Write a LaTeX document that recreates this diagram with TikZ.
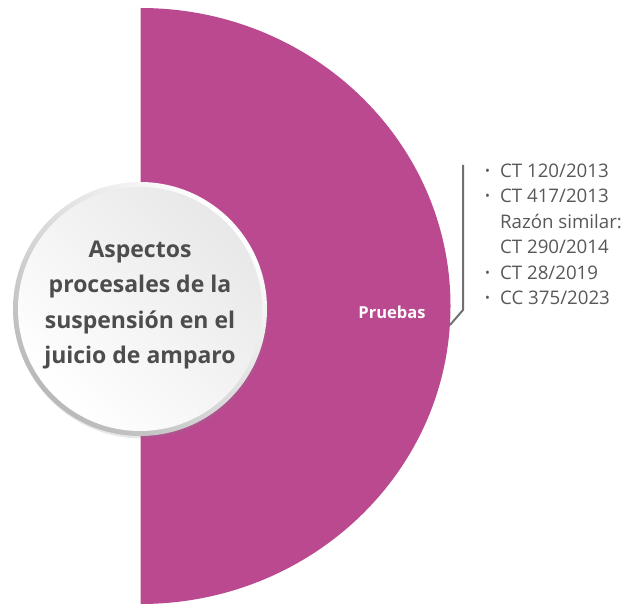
\documentclass[tikz,border=0pt]{standalone}
\usepackage{fontspec}
\setmainfont{Open Sans}
\usetikzlibrary{shadows}

\definecolor{fucsia}{RGB}{187,73,144}
\definecolor{grisTexto}{RGB}{88,88,90}
\definecolor{grisTitulo}{RGB}{77,77,79}
\definecolor{grisLinea}{RGB}{112,112,114}

\tikzset{
  anillo/.style={circle, minimum size=254pt, inner sep=0pt,
    top color=white, bottom color=gray!55, shading angle=-45},
  disco/.style={circle, minimum size=244pt, inner sep=0pt,
    top color=gray!18, bottom color=white, shading angle=-45},
  titulo/.style={font=\fontsize{23}{35.5}\selectfont\bfseries, text=grisTitulo, align=center},
  rotulo/.style={font=\fontsize{16.5}{20}\selectfont\bfseries, text=white},
  lista/.style={font=\fontsize{18.7}{25.4}\selectfont, text=grisTexto, inner sep=0pt, anchor=base west},
  llave/.style={draw=grisLinea, line width=2pt},
}
\newcommand{\punto}{{\fontsize{13}{13}\selectfont\raisebox{2pt}{•}}}

\begin{document}
\begin{tikzpicture}[x=1pt,y=1pt]
\useasboundingbox (0,0) rectangle (628,605);
% medio disco
\fill[fucsia] (140.5,597) arc[start angle=90,end angle=-90,x radius=310,y radius=298] -- cycle;
% circulo central
\node[anillo, drop shadow={opacity=0.18, shadow xshift=1.5pt, shadow yshift=-2.5pt}] (anillo) at (140,296) {};
\node[disco] (centro) at (anillo) {};
\node[titulo] (tema) at (140,300) {Aspectos\\procesales de la\\suspensión en el\\juicio de amparo};

\node[rotulo] (pruebas) at (392,293) {Pruebas};
\node[lista] (casos) at (485,427.5) {\begin{tabular}[t]{@{}l@{\hspace{10pt}}l@{}}
  \punto & CT 120/2013\\
  \punto & CT 417/2013\\
         & Razón similar:\\
         & CT 290/2014\\
  \punto & CT 28/2019\\
  \punto & CC 375/2023
\end{tabular}};

\coordinate (borde) at (450,280);
\coordinate (codo) at (463,295);
\coordinate (tope) at (463,440);
\draw[llave] (borde) -- (codo) -- (tope);
\end{tikzpicture}
\end{document}
